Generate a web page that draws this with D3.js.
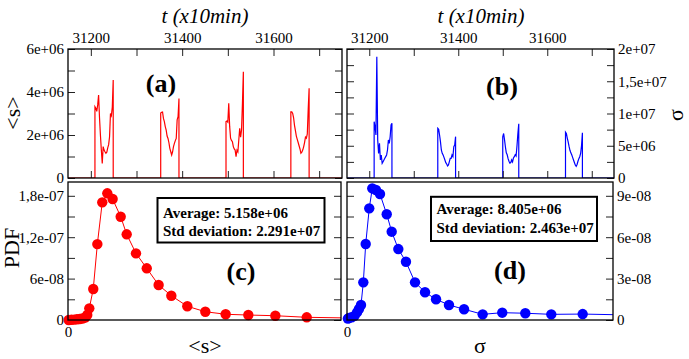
<!DOCTYPE html>
<html><head><meta charset="utf-8">
<script src="https://cdn.jsdelivr.net/npm/d3@7"></script>
<style>
body{margin:0;background:#fff}
svg text{font-family:"Liberation Serif","Times New Roman",serif}
</style>
</head><body>
<svg id="chart" width="689" height="359"></svg>
<script>
// ---------- DATA ----------
const timeDomain = [31150, 31750];
const timeTicks = [31200, 31300, 31400, 31500, 31600, 31700];
const timeLabelValues = [31200, 31400, 31600];
const timeLabels = ["31200", "31400", "31600"];
const burstStep = 2;

// panel (a): <s> time series, values in units of 1e6
const meanBurstStarts = [31209, 31353, 31496, 31638];
const meanBursts = [
  [3.32, 3.25, 3.1, 3.4, 3.86, 2.8, 2.0, 1.3, 0.68, 1.46, 1.3, 1.22, 1.15, 1.2, 1.4, 1.55, 1.92, 3.0, 2.9, 3.3, 4.56],
  [3.02, 3.06, 3.07, 2.77, 2.62, 2.39, 2.23, 1.95, 1.84, 1.64, 1.38, 1.22, 1.07, 1.22, 1.46, 1.61, 1.74, 1.84, 2.70, 2.85, 3.7],
  [2.62, 2.65, 2.6, 3.47, 2.4, 1.85, 1.75, 1.69, 1.46, 1.35, 1.3, 0.99, 1.3, 1.22, 1.77, 2.31, 1.9, 2.23, 3.47, 4.94],
  [3.08, 3.08, 3.0, 2.8, 2.45, 2.2, 1.95, 1.8, 1.65, 1.5, 1.35, 1.15, 1.2, 1.3, 1.45, 1.65, 1.9, 1.85, 2.05, 3.2, 4.17]
];
const meanTicks = [0, 1e6, 2e6, 3e6, 4e6, 5e6, 6e6];
const meanLabelValues = [0, 2e6, 4e6, 6e6];
const meanLabels = ["0", "2e+06", "4e+06", "6e+06"];

// panel (b): sigma time series, values in units of 1e6
const sigmaBurstStarts = [31211, 31354, 31500, 31641];
const sigmaBursts = [
  [8.73, 7.96, 6.67, 18.8, 5.89, 3.82, 5.37, 2.79, 3.57, 2.27, 2.53, 2.79, 3.05, 3.31, 3.57, 4.34, 5.89, 5.37, 6.41, 8.22, 8.47],
  [7.70, 7.54, 6.67, 5.63, 4.34, 3.82, 3.57, 3.2, 2.79, 2.38, 2.17, 1.86, 2.02, 2.53, 3.05, 3.05, 3.57, 3.31, 4.86, 5.12, 6.41],
  [6.4, 6.9, 5.9, 4.8, 3.9, 3.6, 3.0, 2.6, 2.3, 2.4, 2.8, 2.5, 3.1, 3.3, 3.6, 3.4, 5.0, 6.9, 8.4],
  [7.1, 6.9, 6.2, 5.6, 4.9, 4.3, 3.9, 3.6, 3.2, 2.8, 2.4, 2.0, 1.8, 2.1, 2.6, 3.0, 3.3, 3.8, 5.0, 7.0]
];
const sigmaTicks = [0, 2.5e6, 5e6, 7.5e6, 1e7, 1.25e7, 1.5e7, 1.75e7, 2e7];
const sigmaLabelValues = [0, 5e6, 1e7, 1.5e7, 2e7];
const sigmaLabels = ["0", "5e+06", "1e+07", "1,5e+07", "2e+07"];

// panel (c): PDF of <s>; x in 1e6, y in 1e-8
const pdfMeanX = [0.05, 0.25, 0.45, 0.65, 0.85, 1.05, 1.25, 1.41, 1.56, 1.85, 2.15, 2.51, 2.88, 3.27, 3.86, 4.30, 4.98, 5.77, 6.64, 7.57, 8.74, 10.06, 11.55, 13.21, 15.19, 17.49, 21.0];
const pdfMeanY = [0.0, 0.03, 0.06, 0.1, 0.15, 0.22, 0.35, 0.72, 1.69, 4.49, 11.0, 17.05, 18.36, 17.53, 14.97, 12.42, 9.66, 7.49, 5.07, 3.52, 1.99, 1.20, 0.83, 0.72, 0.62, 0.39, 0.28];
const pdfMeanTicks = [0, 3e-8, 6e-8, 9e-8, 1.2e-7, 1.5e-7, 1.8e-7];
const pdfMeanLabelValues = [0, 6e-8, 1.2e-7, 1.8e-7];
const pdfMeanLabels = ["0", "6e-08", "1,2e-07", "1,8e-07"];
const meanStats = ["Average: 5.158e+06", "Std deviation: 2.291e+07"];

// panel (d): PDF of sigma; x in 1e6, y in 1e-8
const pdfSigmaX = [0.1, 0.23, 0.53, 0.85, 1.13, 1.35, 1.58, 1.84, 2.11, 2.51, 2.85, 3.27, 3.72, 4.48, 5.04, 5.79, 6.65, 7.67, 8.80, 10.04, 11.50, 13.20, 15.30, 17.51, 20.11, 23.04, 26.58, 32.0];
const pdfSigmaY = [0.1, 0.15, 0.2, 0.3, 0.55, 0.8, 1.09, 2.73, 5.51, 8.09, 9.54, 9.42, 9.13, 7.66, 6.40, 5.14, 4.22, 2.73, 2.01, 1.50, 1.09, 0.78, 0.41, 0.53, 0.49, 0.41, 0.43, 0.36];
const pdfSigmaTicks = [0, 1.5e-8, 3e-8, 4.5e-8, 6e-8, 7.5e-8, 9e-8];
const pdfSigmaLabelValues = [0, 3e-8, 6e-8, 9e-8];
const pdfSigmaLabels = ["0", "3e-08", "6e-08", "9e-08"];
const sigmaStats = ["Average: 8.405e+06", "Std deviation: 2.463e+07"];

// ---------- LAYOUT ----------
const P = {
  a: {x0: 68, x1: 342, y0: 49, y1: 178},
  b: {x0: 347, x1: 614, y0: 49, y1: 178},
  c: {x0: 68, x1: 341, y0: 182, y1: 320},
  d: {x0: 347, x1: 613, y0: 182, y1: 320}
};
const RED = "#ff0000", BLUE = "#0000ff";
const svg = d3.select("#chart");
const defs = svg.append("defs");
Object.entries(P).forEach(([k, p]) => {
  defs.append("clipPath").attr("id", "clip-" + k).append("rect")
    .attr("x", p.x0).attr("y", p.y0).attr("width", p.x1 - p.x0).attr("height", p.y1 - p.y0);
});

function labeler(values, labels) {
  const m = new Map(values.map((v, i) => [v, labels[i]]));
  return d => m.has(d) ? m.get(d) : "";
}
function styleAxis(g) {
  g.select(".domain").remove();
  g.attr("font-family", null).attr("font-size", null);
  g.selectAll("line").attr("stroke", "#222").attr("stroke-width", 1);
  g.selectAll("text").attr("font-size", 15).attr("fill", "#000")
    .style("font-family", '"Liberation Serif","Times New Roman",serif');
}
function addAxis(axis, tx, ty) {
  svg.append("g").attr("transform", `translate(${tx},${ty})`).call(axis).call(styleAxis);
}
function buildSeries(starts, bursts, unit) {
  const pts = [{t: timeDomain[0], v: 0}];
  bursts.forEach((b, i) => {
    const s = starts[i];
    pts.push({t: s, v: 0});
    b.forEach((v, j) => pts.push({t: s + j * burstStep, v: v * unit}));
    const e = s + (b.length - 1) * burstStep;
    pts.push({t: e, v: 0});
  });
  pts.push({t: timeDomain[1], v: 0});
  return pts;
}

// ---------- PANEL (a) ----------
const xa = d3.scaleLinear().domain(timeDomain).range([P.a.x0, P.a.x1]);
const ya = d3.scaleLinear().domain([0, 6e6]).range([P.a.y1, P.a.y0]);
svg.append("path").attr("clip-path", "url(#clip-a)")
  .datum(buildSeries(meanBurstStarts, meanBursts, 1e6))
  .attr("fill", "none").attr("stroke", RED).attr("stroke-width", 1.2)
  .attr("d", d3.line().x(d => xa(d.t)).y(d => ya(d.v)));
addAxis(d3.axisTop(xa).tickValues(timeTicks).tickSizeInner(-7).tickSizeOuter(0).tickPadding(6)
  .tickFormat(labeler(timeLabelValues, timeLabels)), 0, P.a.y0);
addAxis(d3.axisBottom(xa).tickValues(timeTicks).tickSizeInner(-7).tickSizeOuter(0).tickFormat(() => ""), 0, P.a.y1);
addAxis(d3.axisLeft(ya).tickValues(meanTicks).tickSizeInner(-7).tickSizeOuter(0).tickPadding(4)
  .tickFormat(labeler(meanLabelValues, meanLabels)), P.a.x0, 0);
addAxis(d3.axisRight(ya).tickValues(meanTicks).tickSizeInner(-7).tickSizeOuter(0).tickFormat(() => ""), P.a.x1, 0);

// ---------- PANEL (b) ----------
const xb = d3.scaleLinear().domain(timeDomain).range([P.b.x0, P.b.x1]);
const yb = d3.scaleLinear().domain([0, 2e7]).range([P.b.y1, P.b.y0]);
svg.append("path").attr("clip-path", "url(#clip-b)")
  .datum(buildSeries(sigmaBurstStarts, sigmaBursts, 1e6))
  .attr("fill", "none").attr("stroke", BLUE).attr("stroke-width", 1.2)
  .attr("d", d3.line().x(d => xb(d.t)).y(d => yb(d.v)));
addAxis(d3.axisTop(xb).tickValues(timeTicks).tickSizeInner(-7).tickSizeOuter(0).tickPadding(6)
  .tickFormat(labeler(timeLabelValues, timeLabels)), 0, P.b.y0);
addAxis(d3.axisBottom(xb).tickValues(timeTicks).tickSizeInner(-7).tickSizeOuter(0).tickFormat(() => ""), 0, P.b.y1);
addAxis(d3.axisRight(yb).tickValues(sigmaTicks).tickSizeInner(-7).tickSizeOuter(0).tickPadding(4)
  .tickFormat(labeler(sigmaLabelValues, sigmaLabels)), P.b.x1, 0);
addAxis(d3.axisLeft(yb).tickValues(sigmaTicks).tickSizeInner(-7).tickSizeOuter(0).tickFormat(() => ""), P.b.x0, 0);

// ---------- PANEL (c) ----------
const xc = d3.scaleLinear().domain([0, 2e7]).range([P.c.x0, P.c.x1]);
const yc = d3.scaleLinear().domain([0, 2e-7]).range([P.c.y1, P.c.y0]);
const dataC = pdfMeanX.map((x, i) => ({x: x * 1e6, y: pdfMeanY[i] * 1e-8}));
addAxis(d3.axisLeft(yc).tickValues(pdfMeanTicks).tickSizeInner(-7).tickSizeOuter(0).tickPadding(4)
  .tickFormat(labeler(pdfMeanLabelValues, pdfMeanLabels)), P.c.x0, 0);
addAxis(d3.axisRight(yc).tickValues(pdfMeanTicks).tickSizeInner(-7).tickSizeOuter(0).tickFormat(() => ""), P.c.x1, 0);
addAxis(d3.axisBottom(xc).tickValues([0]).tickSize(0).tickPadding(6).tickFormat(() => "0"), 0, P.c.y1);
svg.append("path").attr("clip-path", "url(#clip-c)").datum(dataC)
  .attr("fill", "none").attr("stroke", RED).attr("stroke-width", 1)
  .attr("d", d3.line().x(d => xc(d.x)).y(d => yc(d.y)));
svg.append("g").selectAll("circle").data(dataC.filter(d => d.x <= 2e7)).join("circle")
  .attr("cx", d => xc(d.x)).attr("cy", d => yc(d.y)).attr("r", 5.2).attr("fill", RED);

// ---------- PANEL (d) ----------
const xd = d3.scaleLinear().domain([0, 3e7]).range([P.d.x0, P.d.x1]);
const yd = d3.scaleLinear().domain([0, 1e-7]).range([P.d.y1, P.d.y0]);
const dataD = pdfSigmaX.map((x, i) => ({x: x * 1e6, y: pdfSigmaY[i] * 1e-8}));
addAxis(d3.axisRight(yd).tickValues(pdfSigmaTicks).tickSizeInner(-7).tickSizeOuter(0).tickPadding(4)
  .tickFormat(labeler(pdfSigmaLabelValues, pdfSigmaLabels)), P.d.x1, 0);
addAxis(d3.axisLeft(yd).tickValues(pdfSigmaTicks).tickSizeInner(-7).tickSizeOuter(0).tickFormat(() => ""), P.d.x0, 0);
addAxis(d3.axisBottom(xd).tickValues([0]).tickSize(0).tickPadding(6).tickFormat(() => "0"), 0, P.d.y1);
svg.append("path").attr("clip-path", "url(#clip-d)").datum(dataD)
  .attr("fill", "none").attr("stroke", BLUE).attr("stroke-width", 1)
  .attr("d", d3.line().x(d => xd(d.x)).y(d => yd(d.y)));
svg.append("g").selectAll("circle").data(dataD.filter(d => d.x <= 3e7)).join("circle")
  .attr("cx", d => xd(d.x)).attr("cy", d => yd(d.y)).attr("r", 5.2).attr("fill", BLUE);

// ---------- FRAMES ----------
Object.values(P).forEach(p => {
  svg.append("rect").attr("x", p.x0).attr("y", p.y0).attr("width", p.x1 - p.x0).attr("height", p.y1 - p.y0)
    .attr("fill", "none").attr("stroke", "#000").attr("stroke-width", 1.3);
});

// ---------- STAT BOXES ----------
function statBox(x, y, w, h, lines, baselines) {
  svg.append("rect").attr("x", x).attr("y", y).attr("width", w).attr("height", h)
    .attr("fill", "#fff").attr("stroke", "#000").attr("stroke-width", 2);
  lines.forEach((s, i) => svg.append("text").attr("x", x + 5.5).attr("y", baselines[i])
    .attr("font-size", 15).attr("font-weight", "bold").text(s));
}
statBox(157.5, 198, 167, 44.5, meanStats, [217.5, 236]);
statBox(431, 196.8, 166, 44.2, sigmaStats, [213.5, 232.5]);

// ---------- LABELS ----------
function txt(x, y, s, opts = {}) {
  const t = svg.append("text").attr("x", x).attr("y", y).attr("text-anchor", "middle")
    .attr("font-size", opts.size || 22).text(s);
  if (opts.bold) t.attr("font-weight", "bold");
  if (opts.italic) t.attr("font-style", "italic");
  if (opts.rotate) t.attr("transform", `rotate(${opts.rotate},${x},${y})`);
  return t;
}
txt(205, 23, "t (x10min)", {size: 21, italic: true});
txt(481, 23, "t (x10min)", {size: 21, italic: true});
txt(161, 92, "(a)", {size: 26, bold: true});
txt(502, 95, "(b)", {size: 26, bold: true});
txt(241, 280, "(c)", {size: 26, bold: true});
txt(510, 279, "(d)", {size: 26, bold: true});
txt(20, 113, "<s>", {rotate: -90});
txt(683, 115, "σ", {rotate: -90});
txt(19, 248, "PDF", {rotate: -90});
txt(205, 353, "<s>");
txt(480, 353, "σ");
</script>
</body></html>
